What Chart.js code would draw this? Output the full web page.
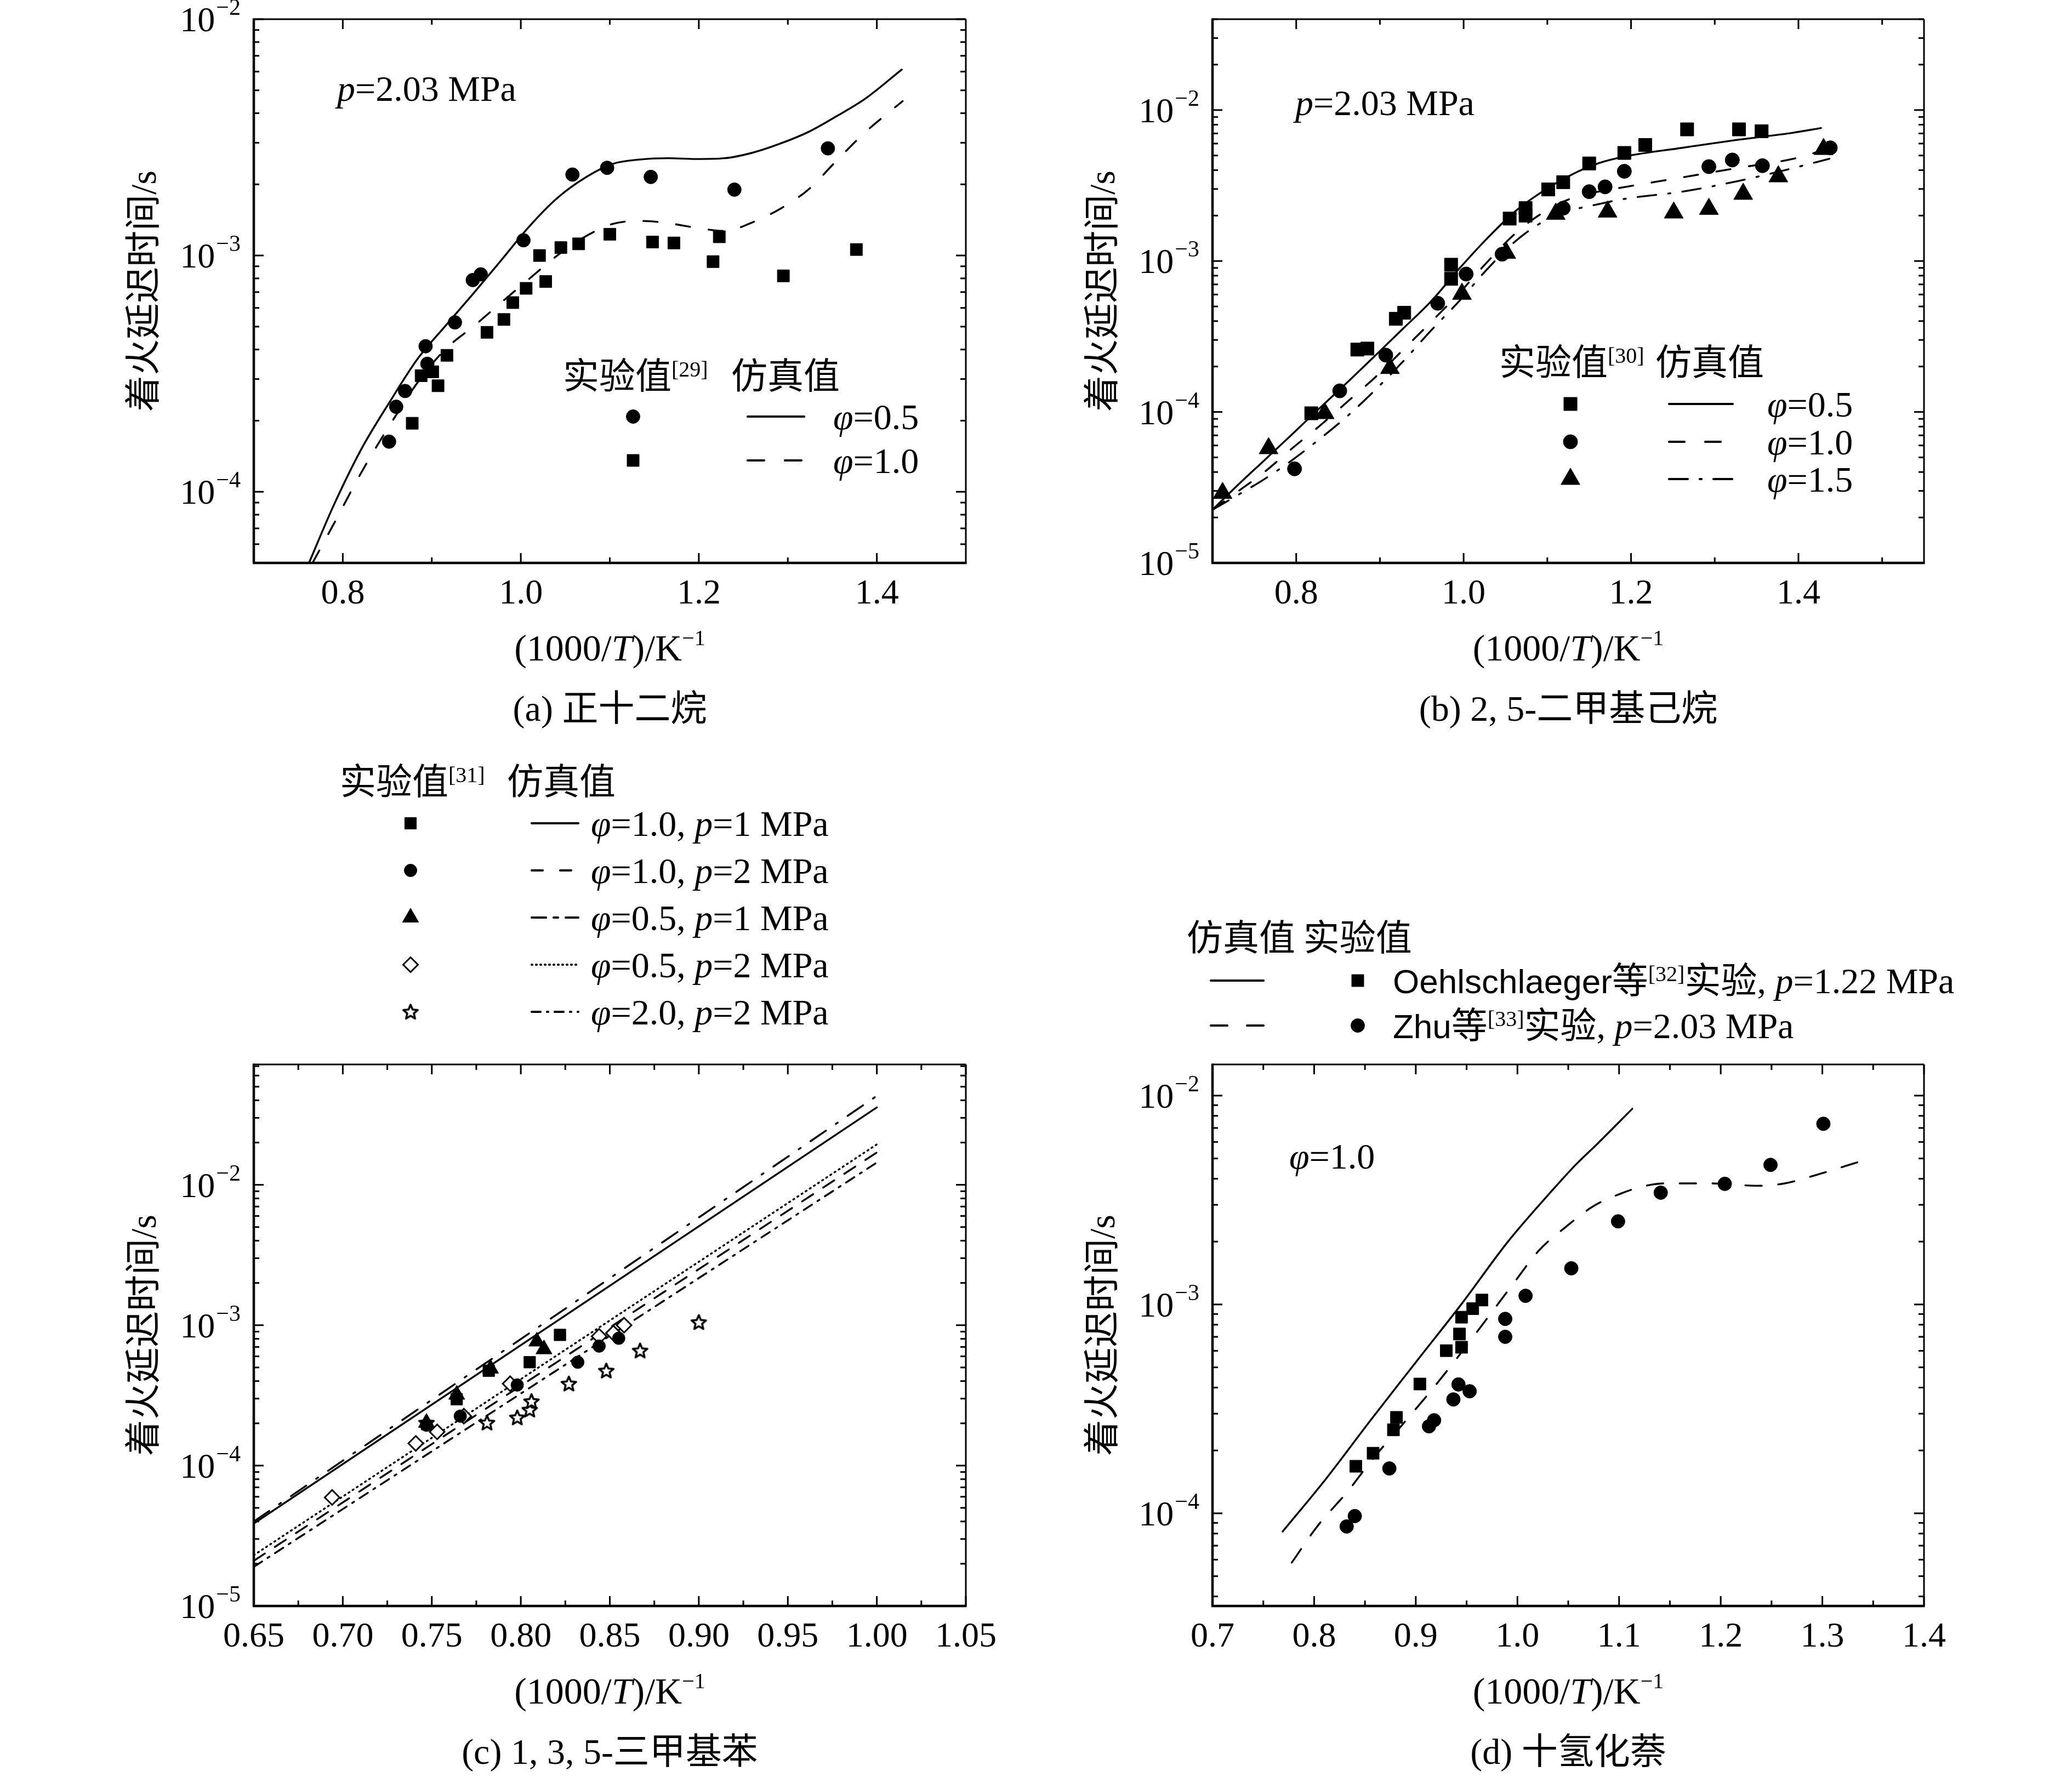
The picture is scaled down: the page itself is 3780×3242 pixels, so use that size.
<!DOCTYPE html>
<html>
<head>
<meta charset="utf-8">
<script src="https://cdn.jsdelivr.net/npm/chart.js@4.4.0/dist/chart.umd.min.js"></script>
<style>
html, body { margin: 0; padding: 0; background: #fff; }
#page { position: relative; width: 3780px; height: 3242px; background: #fff; overflow: hidden; }
#page canvas { position: absolute; }
</style>
</head>
<body>
<div id="page">
	<canvas id="chartA"></canvas>
	<canvas id="chartB"></canvas>
	<canvas id="chartC"></canvas>
	<canvas id="chartD"></canvas>
</div>
<script>

const SERIF = '"Liberation Serif", "Times New Roman", serif';
const SANS = '"Liberation Sans", Arial, sans-serif';
const CJK = '"Noto Sans CJK SC", sans-serif';

// ---- (a) n-dodecane
const aTickX = [0.8, 1.0, 1.2, 1.4];
const aMinorX = [0.9, 1.1, 1.3];
const aExpY = [-2, -3, -4];
const aCircleX = [0.852, 0.860, 0.870, 0.893, 0.895, 0.926, 0.946, 0.955, 1.003, 1.058, 1.097, 1.146, 1.240, 1.345];
const aCircleY = [1.63e-4, 2.29e-4, 2.67e-4, 4.13e-4, 3.48e-4, 5.21e-4, 7.87e-4, 8.32e-4, 1.16e-3, 2.20e-3, 2.35e-3, 2.15e-3, 1.90e-3, 2.84e-3];
const aSquareX = [0.878, 0.888, 0.901, 0.907, 0.917, 0.962, 0.981, 0.991, 1.006, 1.021, 1.028, 1.045, 1.065, 1.100, 1.148, 1.172, 1.216, 1.223, 1.295, 1.377];
const aSquareY = [1.95e-4, 3.10e-4, 3.22e-4, 2.81e-4, 3.78e-4, 4.73e-4, 5.36e-4, 6.32e-4, 7.26e-4, 1.00e-3, 7.76e-4, 1.08e-3, 1.12e-3, 1.23e-3, 1.14e-3, 1.13e-3, 9.42e-4, 1.20e-3, 8.2e-4, 1.06e-3];
const aSolidX = [0.762, 0.790, 0.821, 0.853, 0.884, 0.915, 0.947, 0.978, 1.009, 1.041, 1.072, 1.103, 1.135, 1.166, 1.197, 1.229, 1.260, 1.292, 1.323, 1.354, 1.386, 1.428];
const aSolidY = [5.0e-5, 8.8e-5, 1.52e-4, 2.41e-4, 3.65e-4, 5.02e-4, 6.93e-4, 9.55e-4, 1.32e-3, 1.75e-3, 2.13e-3, 2.44e-3, 2.55e-3, 2.58e-3, 2.56e-3, 2.58e-3, 2.72e-3, 2.98e-3, 3.33e-3, 3.87e-3, 4.58e-3, 6.12e-3];
const aDashX = [0.766, 0.790, 0.821, 0.853, 0.884, 0.915, 0.947, 0.978, 1.009, 1.041, 1.072, 1.103, 1.135, 1.166, 1.197, 1.229, 1.260, 1.292, 1.323, 1.354, 1.386, 1.429];
const aDashY = [5.0e-5, 7.33e-5, 1.21e-4, 1.92e-4, 2.90e-4, 4.0e-4, 5.02e-4, 6.32e-4, 7.94e-4, 1.0e-3, 1.20e-3, 1.36e-3, 1.40e-3, 1.37e-3, 1.31e-3, 1.27e-3, 1.38e-3, 1.58e-3, 1.90e-3, 2.50e-3, 3.30e-3, 4.50e-3];

// ---- (b) 2,5-dimethylhexane
const bTickX = [0.8, 1.0, 1.2, 1.4];
const bMinorX = [0.9, 1.1, 1.3, 1.5];
const bExpY = [-2, -3, -4, -5];
const bSquareX = [0.818, 0.873, 0.885, 0.919, 0.929, 0.985, 0.985, 1.055, 1.074, 1.074, 1.101, 1.119, 1.150, 1.192, 1.217, 1.267, 1.329, 1.356];
const bSquareY = [9.8e-5, 2.59e-4, 2.63e-4, 4.14e-4, 4.54e-4, 9.45e-4, 7.62e-4, 1.91e-3, 2.24e-3, 2.0e-3, 2.98e-3, 3.33e-3, 4.43e-3, 5.2e-3, 5.87e-3, 7.45e-3, 7.45e-3, 7.24e-3];
const bCircleX = [0.798, 0.852, 0.907, 0.969, 1.003, 1.046, 1.119, 1.150, 1.169, 1.192, 1.293, 1.321, 1.357, 1.438];
const bCircleY = [4.2e-5, 1.38e-4, 2.38e-4, 5.25e-4, 8.2e-4, 1.11e-3, 2.24e-3, 2.88e-3, 3.10e-3, 3.93e-3, 4.22e-3, 4.67e-3, 4.28e-3, 5.62e-3];
const bTriX = [0.712, 0.767, 0.834, 0.912, 0.998, 1.051, 1.110, 1.172, 1.251, 1.293, 1.334, 1.376, 1.430];
const bTriY = [2.9e-5, 5.74e-5, 9.8e-5, 1.95e-4, 6.05e-4, 1.13e-3, 2.05e-3, 2.12e-3, 2.09e-3, 2.21e-3, 2.78e-3, 3.63e-3, 5.51e-3];
const bSolidX = [0.700, 0.729, 0.762, 0.795, 0.828, 0.862, 0.895, 0.928, 0.961, 0.995, 1.028, 1.061, 1.094, 1.128, 1.161, 1.194, 1.261, 1.327, 1.394, 1.427];
const bSolidY = [2.25e-5, 3.23e-5, 4.79e-5, 7.11e-5, 1.06e-4, 1.59e-4, 2.38e-4, 3.58e-4, 5.40e-4, 8.93e-4, 1.41e-3, 2.12e-3, 2.88e-3, 3.71e-3, 4.44e-3, 4.94e-3, 5.62e-3, 6.35e-3, 7.08e-3, 7.60e-3];
const bDashX = [0.700, 0.729, 0.762, 0.795, 0.828, 0.862, 0.895, 0.928, 0.961, 0.995, 1.028, 1.061, 1.094, 1.128, 1.161, 1.194, 1.261, 1.327, 1.394, 1.434];
const bDashY = [2.25e-5, 2.94e-5, 4.0e-5, 5.73e-5, 8.09e-5, 1.18e-4, 1.71e-4, 2.59e-4, 3.94e-4, 6.15e-4, 9.82e-4, 1.51e-3, 2.08e-3, 2.59e-3, 2.88e-3, 3.10e-3, 3.58e-3, 4.13e-3, 4.76e-3, 5.51e-3];
const bDashDotX = [0.700, 0.729, 0.762, 0.795, 0.828, 0.862, 0.895, 0.928, 0.961, 0.995, 1.028, 1.061, 1.094, 1.128, 1.161, 1.194, 1.261, 1.327, 1.394, 1.437];
const bDashDotY = [2.25e-5, 2.79e-5, 3.59e-5, 4.79e-5, 6.62e-5, 9.48e-5, 1.41e-4, 2.17e-4, 3.46e-4, 5.45e-4, 8.81e-4, 1.34e-3, 1.81e-3, 2.16e-3, 2.38e-3, 2.59e-3, 2.88e-3, 3.38e-3, 4.13e-3, 4.76e-3];

// ---- (c) 1,3,5-trimethylbenzene
const cTickX = [0.65, 0.70, 0.75, 0.80, 0.85, 0.90, 0.95, 1.00, 1.05];
const cMinorX = [0.675, 0.725, 0.775, 0.825, 0.875, 0.925, 0.975, 1.025];
const cExpY = [-2, -3, -4, -5];
const cSquareX = [0.764, 0.782, 0.805, 0.822];
const cSquareY = [2.97e-4, 4.74e-4, 5.45e-4, 8.53e-4];
const cCircleX = [0.747, 0.766, 0.798, 0.832, 0.844, 0.855];
const cCircleY = [1.94e-4, 2.25e-4, 3.75e-4, 5.45e-4, 7.1e-4, 8.07e-4];
const cTriX = [0.747, 0.764, 0.783, 0.809, 0.813];
const cTriY = [2.02e-4, 3.2e-4, 4.9e-4, 7.66e-4, 6.74e-4];
const cDiamondX = [0.694, 0.741, 0.753, 0.768, 0.794, 0.844, 0.852, 0.858];
const cDiamondY = [5.93e-5, 1.44e-4, 1.74e-4, 2.25e-4, 3.83e-4, 8.33e-4, 8.79e-4, 1.0e-3];
const cStarX = [0.747, 0.781, 0.798, 0.805, 0.806, 0.827, 0.848, 0.867, 0.900];
const cStarY = [2.02e-4, 2.02e-4, 2.2e-4, 2.5e-4, 2.87e-4, 3.83e-4, 4.74e-4, 6.59e-4, 1.05e-3];
const cLineX = [0.65, 1.00];
const cSolidY = [3.87e-5, 3.56e-2];
const cDashY = [2.1e-5, 1.7e-2];
const cDashDotY = [4.0e-5, 4.3e-2];
const cDotY = [2.3e-5, 1.94e-2];
const cDashDot2Y = [1.9e-5, 1.44e-2];

// ---- (d) decalin
const dTickX = [0.7, 0.8, 0.9, 1.0, 1.1, 1.2, 1.3, 1.4];
const dMinorX = [0.75, 0.85, 0.95, 1.05, 1.15, 1.25, 1.35];
const dExpY = [-2, -3, -4];
const dSquareX = [0.841, 0.858, 0.878, 0.881, 0.904, 0.930, 0.943, 0.945, 0.945, 0.956, 0.965];
const dSquareY = [1.68e-4, 1.94e-4, 2.51e-4, 2.88e-4, 4.16e-4, 6.01e-4, 7.22e-4, 6.24e-4, 8.69e-4, 9.55e-4, 1.05e-3];
const dCircleX = [0.832, 0.840, 0.874, 0.913, 0.918, 0.937, 0.942, 0.953, 0.988, 0.988, 1.008, 1.053, 1.099, 1.141, 1.204, 1.249, 1.301];
const dCircleY = [8.65e-5, 9.7e-5, 1.64e-4, 2.61e-4, 2.79e-4, 3.51e-4, 4.14e-4, 3.84e-4, 8.53e-4, 7.0e-4, 1.10e-3, 1.49e-3, 2.50e-3, 3.43e-3, 3.78e-3, 4.66e-3, 7.33e-3];
const dSolidX = [0.769, 0.812, 0.856, 0.901, 0.946, 0.990, 1.035, 1.057, 1.079, 1.113];
const dSolidY = [8.18e-5, 1.47e-4, 2.81e-4, 5.36e-4, 1.02e-3, 1.98e-3, 3.55e-3, 4.65e-3, 5.90e-3, 8.65e-3];
const dDashX = [0.778, 0.803, 0.834, 0.856, 0.888, 0.914, 0.941, 0.968, 0.995, 1.021, 1.048, 1.075, 1.102, 1.124, 1.146, 1.191, 1.236, 1.263, 1.294, 1.336];
const dDashY = [5.81e-5, 8.65e-5, 1.29e-4, 1.78e-4, 2.70e-4, 3.81e-4, 5.57e-4, 8.30e-4, 1.24e-3, 1.81e-3, 2.36e-3, 2.96e-3, 3.40e-3, 3.68e-3, 3.80e-3, 3.80e-3, 3.70e-3, 3.80e-3, 4.17e-3, 4.82e-3];


const DASH = [26, 34];
const DASHDOT = [34, 22, 4, 22];
const DASHDOT2 = [18, 12, 4, 12];
const DOT = [2, 7];
const LW = 3.4;

function f(size, fam, style) { return (style ? style + ' ' : '') + size + 'px ' + fam; }

// open five point star used as point style in (c)
function makeStar(size){
	var c = document.createElement('canvas');
	c.width = c.height = size;
	var g = c.getContext('2d');
	var R = size / 2 - 2.5, r = R * 0.45, cx = size / 2, cy = size / 2 + 1;
	g.beginPath();
	for (var i = 0; i < 10; i++) {
		var ang = -Math.PI / 2 + i * Math.PI / 5;
		var rr = i % 2 ? r : R;
		g.lineTo(cx + rr * Math.cos(ang), cy + rr * Math.sin(ang));
	}
	g.closePath();
	g.fillStyle = '#fff';
	g.fill();
	g.lineWidth = 3.6;
	g.lineJoin = 'round';
	g.strokeStyle = '#000';
	g.stroke();
	return c;
}
const STAR = makeStar(33);

function pts(xs, ys){ return xs.map((x, i) => ({ x: x, y: ys[i] })); }

function marks(xs, ys, style, r, open){
	return {
		data: pts(xs, ys), showLine: false,
		pointStyle: style, pointRadius: r, pointHoverRadius: r,
		backgroundColor: open ? '#fff' : '#000', borderColor: '#000',
		pointBackgroundColor: open ? '#fff' : '#000', pointBorderColor: '#000',
		pointBorderWidth: open ? 3 : 1
	};
}

function curve(xs, ys, dash, straight){
	return {
		data: pts(xs, ys), showLine: true, pointRadius: 0, pointHoverRadius: 0,
		borderColor: '#000', borderWidth: LW, borderDash: dash || [],
		borderCapStyle: 'round', borderJoinStyle: 'round',
		tension: straight ? 0 : 0.4, cubicInterpolationMode: straight ? 'default' : 'monotone',
		fill: false
	};
}

// draw a row of text runs [text, font, rise] from a baseline
function rich(ctx, parts, x, y, align){
	var w = 0;
	parts.forEach(p => { ctx.font = p[1]; w += ctx.measureText(p[0]).width; });
	var cx = align === 'center' ? x - w / 2 : (align === 'right' ? x - w : x);
	ctx.textAlign = 'left';
	ctx.textBaseline = 'alphabetic';
	parts.forEach(p => {
		ctx.font = p[1];
		ctx.fillText(p[0], cx, y - (p[2] || 0));
		cx += ctx.measureText(p[0]).width;
	});
	return w;
}

function sample(ctx, x0, x1, y, dash){
	ctx.save();
	ctx.lineWidth = 4.2;
	ctx.lineCap = 'round';
	ctx.setLineDash(dash || []);
	ctx.beginPath();
	ctx.moveTo(x0, y);
	ctx.lineTo(x1, y);
	ctx.stroke();
	ctx.restore();
}

function marker(ctx, style, r, x, y, open){
	ctx.save();
	ctx.fillStyle = open ? '#fff' : '#000';
	ctx.strokeStyle = '#000';
	ctx.lineWidth = open ? 3 : 1;
	var opts = { pointStyle: style, radius: r, rotation: 0, borderWidth: open ? 3 : 1 };
	if (Chart.helpers && Chart.helpers.drawPoint) {
		Chart.helpers.drawPoint(ctx, opts, x, y);
	} else {
		ctx.beginPath(); ctx.arc(x, y, r, 0, Math.PI * 2); ctx.fill();
	}
	ctx.restore();
}

const TICK = 64, TXT = 66;

// frame, inward ticks, tick labels, titles and whatever the panel draws on top
function decoPlugin(cfg){
	return {
		id: 'deco',
		afterDraw(chart){
			var ctx = chart.ctx;
			var ox = cfg.box[0], oy = cfg.box[1];
			var xs = chart.scales.x, ys = chart.scales.y;
			var ca = chart.chartArea;
			var a = { left: ca.left + ox, right: ca.right + ox, top: ca.top + oy, bottom: ca.bottom + oy };
			var px = v => xs.getPixelForValue(v) + ox;
			var py = v => ys.getPixelForValue(v) + oy;

			ctx.save();
			ctx.translate(-ox, -oy);
			ctx.strokeStyle = '#000';
			ctx.fillStyle = '#000';
			ctx.lineWidth = 3;
			ctx.setLineDash([]);

			var seg = (x0, y0, x1, y1) => { ctx.beginPath(); ctx.moveTo(x0, y0); ctx.lineTo(x1, y1); ctx.stroke(); };

			cfg.xMajor.forEach(v => { var p = px(v); seg(p, a.bottom, p, a.bottom - 18); seg(p, a.top, p, a.top + 18); });
			cfg.xMinor.forEach(v => { var p = px(v); seg(p, a.bottom, p, a.bottom - 10); seg(p, a.top, p, a.top + 10); });

			for (var e = -6; e <= -1; e++) {
				for (var m = 1; m <= 9; m++) {
					var v = m * Math.pow(10, e);
					if (v < ys.min * 0.999 || v > ys.max * 1.001) continue;
					var p = py(v), len = m === 1 ? 18 : 10;
					seg(a.left, p, a.left + len, p);
					seg(a.right, p, a.right - len, p);
				}
			}

			// axes: left/bottom heavier than top/right
			ctx.lineWidth = 3;
			seg(a.left, a.top, a.right, a.top);
			seg(a.right, a.top, a.right, a.bottom);
			ctx.lineWidth = 4.5;
			seg(a.left - 2, a.bottom, a.right + 1.5, a.bottom);
			seg(a.left, a.top - 1.5, a.left, a.bottom);

			// x tick labels
			ctx.font = f(TICK, SERIF);
			ctx.textAlign = 'center';
			ctx.textBaseline = 'middle';
			cfg.xMajor.forEach((v, i) => { ctx.fillText(cfg.xLabels[i], px(v), a.bottom + 57); });

			// y tick labels 10^n
			cfg.yExp.forEach(n => {
				var p = py(Math.pow(10, n));
				ctx.font = f(42, SERIF);
				var sup = '\u2212' + Math.abs(n);
				var sw = ctx.measureText(sup).width;
				var right = a.left - 24;
				rich(ctx, [[sup, f(42, SERIF)]], right, p - 8, 'right');
				rich(ctx, [['10', f(TICK, SERIF)]], right - sw - 2, p + 22, 'right');
			});

			var midX = (a.left + a.right) / 2, midY = (a.top + a.bottom) / 2;

			// y title
			ctx.save();
			ctx.translate(a.left - 202, midY);
			ctx.rotate(-Math.PI / 2);
			rich(ctx, [['着火延迟时间', f(TXT, CJK)], ['/s', f(TXT, SERIF)]], 0, 23, 'center');
			ctx.restore();

			// x title
			rich(ctx, [['(1000/', f(68, SERIF)], ['T', f(68, SERIF, 'italic')], [')/K', f(68, SERIF)], ['\u22121', f(40, SERIF), 28]], midX, a.bottom + 155 + 23, 'center');

			// caption
			rich(ctx, [[cfg.capHead, f(TXT, SERIF)], [cfg.capCjk, f(TXT, CJK)]], midX, a.bottom + 265 + 23, 'center');

			if (cfg.extra) cfg.extra(ctx);
			ctx.restore();
		}
	};
}

function makeChart(id, box, area, xr, yr, datasets, cfg){
	var cv = document.getElementById(id);
	cv.width = box[2];
	cv.height = box[3];
	cv.style.left = box[0] + 'px';
	cv.style.top = box[1] + 'px';
	cv.style.width = box[2] + 'px';
	cv.style.height = box[3] + 'px';
	cfg.box = box;
	return new Chart(cv.getContext('2d'), {
		type: 'scatter',
		data: { datasets: datasets },
		options: {
			responsive: false,
			animation: false,
			devicePixelRatio: 1,
			events: [],
			layout: { padding: { left: area[0] - box[0], top: area[1] - box[1], right: box[0] + box[2] - area[2], bottom: box[1] + box[3] - area[3] } },
			plugins: { legend: { display: false }, tooltip: { enabled: false } },
			scales: {
				x: { type: 'linear', min: xr[0], max: xr[1], display: false },
				y: { type: 'logarithmic', min: yr[0], max: yr[1], display: false }
			}
		},
		plugins: [decoPlugin(cfg)]
	});
}

function phi(val){ return [['\u03c6', f(TXT, SERIF, 'italic')], ['=' + val, f(TXT, SERIF)]]; }
function phiP(ph, p){
	return [['\u03c6', f(TXT, SERIF, 'italic')], ['=' + ph + ', ', f(TXT, SERIF)], ['p', f(TXT, SERIF, 'italic')], ['=' + p + ' MPa', f(TXT, SERIF)]];
}
function pLabel(ctx, x, cy){
	rich(ctx, [['p', f(TXT, SERIF, 'italic')], ['=2.03 MPa', f(TXT, SERIF)]], x, cy + 23, 'left');
}

// (a)
makeChart('chartA', [0, 0, 1890, 1370], [463, 35, 1762, 1027], [0.7, 1.5], [5e-5, 1e-2], [
	marks(aCircleX, aCircleY, 'circle', 12.5),
	marks(aSquareX, aSquareY, 'rect', 15.5),
	curve(aSolidX, aSolidY),
	curve(aDashX, aDashY, DASH)
], {
	xMajor: aTickX, xMinor: aMinorX, xLabels: ['0.8', '1.0', '1.2', '1.4'], yExp: aExpY,
	capHead: '(a) ', capCjk: '正十二烷',
	extra: function(ctx){
		pLabel(ctx, 615, 161);
		rich(ctx, [['实验值', f(TXT, CJK)], ['[29]', f(40, SERIF), 22]], 1027, 685 + 24, 'left');
		rich(ctx, [['仿真值', f(TXT, CJK)]], 1334, 685 + 24, 'left');
		marker(ctx, 'circle', 12.5, 1155, 760);
		marker(ctx, 'rect', 15.5, 1155, 840);
		sample(ctx, 1364, 1467, 760);
		sample(ctx, 1364, 1467, 840, [30, 38]);
		rich(ctx, phi('0.5'), 1520, 760 + 23, 'left');
		rich(ctx, phi('1.0'), 1520, 840 + 23, 'left');
	}
});

// (b)
makeChart('chartB', [1890, 0, 1890, 1370], [2212, 35, 3510, 1027], [0.7, 1.55], [1e-5, 4e-2], [
	marks(bSquareX, bSquareY, 'rect', 17),
	marks(bCircleX, bCircleY, 'circle', 13),
	marks(bTriX, bTriY, 'triangle', 20),
	curve(bSolidX, bSolidY),
	curve(bDashX, bDashY, DASH),
	curve(bDashDotX, bDashDotY, DASHDOT)
], {
	xMajor: bTickX, xMinor: bMinorX, xLabels: ['0.8', '1.0', '1.2', '1.4'], yExp: bExpY,
	capHead: '(b) 2, 5-', capCjk: '二甲基己烷',
	extra: function(ctx){
		pLabel(ctx, 2363, 187);
		rich(ctx, [['实验值', f(TXT, CJK)], ['[30]', f(40, SERIF), 22]], 2735, 660 + 24, 'left');
		rich(ctx, [['仿真值', f(TXT, CJK)]], 3020, 660 + 24, 'left');
		marker(ctx, 'rect', 17, 2865, 737);
		marker(ctx, 'circle', 13, 2865, 806);
		marker(ctx, 'triangle', 20, 2865, 874);
		sample(ctx, 3045, 3161, 737);
		sample(ctx, 3045, 3161, 806, [28, 38]);
		sample(ctx, 3045, 3161, 874, [34, 22, 3, 22]);
		rich(ctx, phi('0.5'), 3224, 737 + 23, 'left');
		rich(ctx, phi('1.0'), 3224, 806 + 23, 'left');
		rich(ctx, phi('1.5'), 3224, 874 + 23, 'left');
	}
});

// (c)
makeChart('chartC', [0, 1370, 1890, 1872], [463, 1942, 1762, 2930], [0.65, 1.05], [1e-5, 7.2e-2], [
	marks(cSquareX, cSquareY, 'rect', 15),
	marks(cCircleX, cCircleY, 'circle', 11.5),
	marks(cTriX, cTriY, 'triangle', 17),
	marks(cDiamondX, cDiamondY, 'rectRot', 13.5, true),
	marks(cStarX, cStarY, STAR, 16),
	curve(cLineX, cSolidY, [], true),
	curve(cLineX, cDashY, [24, 22], true),
	curve(cLineX, cDashDotY, DASHDOT, true),
	curve(cLineX, cDotY, DOT, true),
	curve(cLineX, cDashDot2Y, DASHDOT2, true)
], {
	xMajor: cTickX, xMinor: cMinorX, xLabels: ['0.65', '0.70', '0.75', '0.80', '0.85', '0.90', '0.95', '1.00', '1.05'], yExp: cExpY,
	capHead: '(c) 1, 3, 5-', capCjk: '三甲基苯',
	extra: function(ctx){
		rich(ctx, [['实验值', f(TXT, CJK)], ['[31]', f(40, SERIF), 22]], 620, 1425 + 24, 'left');
		rich(ctx, [['仿真值', f(TXT, CJK)]], 925, 1425 + 24, 'left');
		var rows = [1502, 1588, 1674, 1760, 1846];
		marker(ctx, 'rect', 15, 749, rows[0]);
		marker(ctx, 'circle', 11.5, 749, rows[1]);
		marker(ctx, 'triangle', 17, 749, rows[2]);
		marker(ctx, 'rectRot', 13.5, 749, rows[3], true);
		ctx.drawImage(STAR, 749 - 16.5, rows[4] - 16.5);
		sample(ctx, 970, 1055, rows[0]);
		sample(ctx, 970, 1055, rows[1], [20, 32]);
		sample(ctx, 970, 1055, rows[2], [26, 14, 8, 14]);
		sample(ctx, 970, 1055, rows[3], [1, 7]);
		sample(ctx, 970, 1055, rows[4], [16, 12, 2, 12]);
		rich(ctx, phiP('1.0', '1'), 1078, rows[0] + 23, 'left');
		rich(ctx, phiP('1.0', '2'), 1078, rows[1] + 23, 'left');
		rich(ctx, phiP('0.5', '1'), 1078, rows[2] + 23, 'left');
		rich(ctx, phiP('0.5', '2'), 1078, rows[3] + 23, 'left');
		rich(ctx, phiP('2.0', '2'), 1078, rows[4] + 23, 'left');
	}
});

// (d)
makeChart('chartD', [1890, 1370, 1890, 1872], [2212, 1942, 3510, 2930], [0.7, 1.4], [3.6e-5, 1.41e-2], [
	marks(dSquareX, dSquareY, 'rect', 15.5),
	marks(dCircleX, dCircleY, 'circle', 12.5),
	curve(dSolidX, dSolidY),
	curve(dDashX, dDashY, [30, 30])
], {
	xMajor: dTickX, xMinor: dMinorX, xLabels: ['0.7', '0.8', '0.9', '1.0', '1.1', '1.2', '1.3', '1.4'], yExp: dExpY,
	capHead: '(d) ', capCjk: '十氢化萘',
	extra: function(ctx){
		rich(ctx, [['仿真值 实验值', f(TXT, CJK)]], 2165, 1710 + 24, 'left');
		sample(ctx, 2209, 2305, 1789);
		sample(ctx, 2209, 2305, 1871, [30, 36]);
		marker(ctx, 'rect', 15.5, 2477, 1789);
		marker(ctx, 'circle', 12.5, 2477, 1871);
		rich(ctx, [['Oehlschlaeger', f(62, SANS)], ['等', f(TXT, CJK)], ['[32]', f(40, SERIF), 22], ['实验', f(TXT, CJK)],
			[', ', f(TXT, SERIF)], ['p', f(TXT, SERIF, 'italic')], ['=1.22 MPa', f(TXT, SERIF)]], 2541, 1789 + 23, 'left');
		rich(ctx, [['Zhu', f(62, SANS)], ['等', f(TXT, CJK)], ['[33]', f(40, SERIF), 22], ['实验', f(TXT, CJK)],
			[', ', f(TXT, SERIF)], ['p', f(TXT, SERIF, 'italic')], ['=2.03 MPa', f(TXT, SERIF)]], 2541, 1871 + 23, 'left');
		rich(ctx, phi('1.0'), 2352, 2109 + 23, 'left');
	}
});

</script>
</body>
</html>
